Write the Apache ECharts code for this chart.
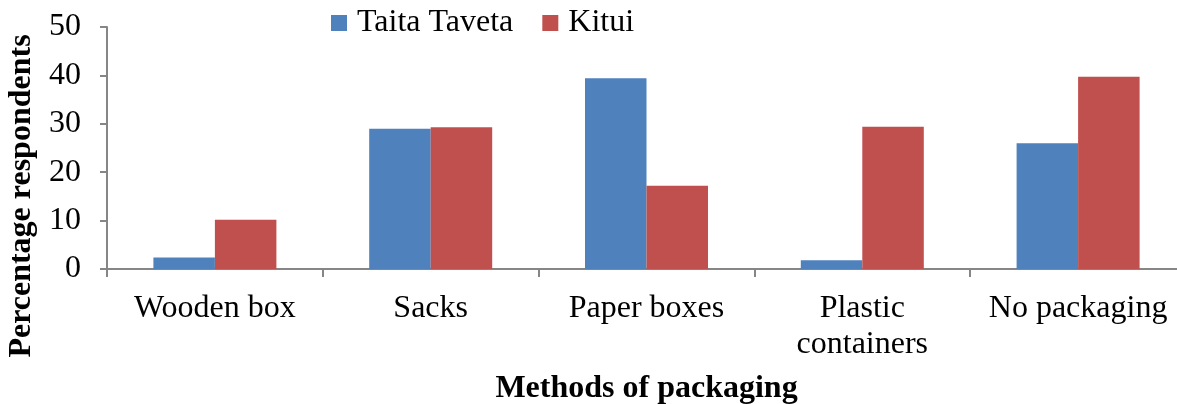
<!DOCTYPE html>
<html lang="en">
<head>
    <meta charset="UTF-8">
    <title>Methods of packaging</title>
    <script src="https://cdn.jsdelivr.net/npm/echarts@6/dist/echarts.min.js"></script>
    <style>
        html, body { margin: 0; padding: 0; background: #fff; }
    </style>
</head>
<body>
<div id="main" style="width: 1177px;height:404px;"></div>
<script type="text/javascript">
    // data
    var categories = ['Wooden box', 'Sacks', 'Paper boxes', 'Plastic\ncontainers', 'No packaging'];
    var taitaTaveta = [2.4, 29.0, 39.4, 1.8, 26.0];
    var kitui = [10.2, 29.3, 17.2, 29.4, 39.7];
    var seriesNames = ['Taita Taveta', 'Kitui'];

    var font = "'Liberation Serif', 'Times New Roman', serif";
    var axisGrey = '#868686';

    var myChart = echarts.init(document.getElementById('main'));

    var option = {
        animation: false,
        textStyle: { fontFamily: font },
        legend: {
            data: seriesNames,
            icon: 'rect',
            left: 331,
            top: 7,
            padding: 0,
            itemWidth: 16,
            itemHeight: 16,
            itemGap: 29,
            textStyle: { fontFamily: font, fontSize: 32, color: '#000', padding: [0, 0, 0, 5] }
        },
        grid: {
            left: 107,
            right: -9,
            top: 27,
            bottom: 135,
            outerBoundsMode: 'none'   // keep the plot where it is, labels may hang outside
        },
        xAxis: {
            type: 'category',
            data: categories,
            axisLine: { lineStyle: { color: axisGrey, width: 2 } },
            axisTick: { show: true, length: 8, lineStyle: { color: axisGrey, width: 2 } },
            axisLabel: {
                fontFamily: font,
                fontSize: 32,
                color: '#000',
                margin: 22,
                lineHeight: 36,
                interval: 0
            },
            name: 'Methods of packaging',
            nameLocation: 'middle',
            nameGap: 104,
            nameTextStyle: { fontFamily: font, fontSize: 32, fontWeight: 'bold', color: '#000' }
        },
        yAxis: {
            type: 'value',
            min: 0,
            max: 50,
            interval: 10,
            axisLine: { show: true, lineStyle: { color: axisGrey, width: 2 } },
            axisTick: { show: true, length: 7, lineStyle: { color: axisGrey, width: 2 } },
            splitLine: { show: false },
            axisLabel: { fontFamily: font, fontSize: 32, color: '#000', margin: 26 }
        },
        graphic: [{
            type: 'text',
            x: 22,
            y: 196,
            rotation: Math.PI / 2,
            style: {
                text: 'Percentage respondents',
                fontFamily: font,
                fontSize: 32,
                fontWeight: 'bold',
                fill: '#000',
                align: 'center',
                verticalAlign: 'middle'
            }
        }],
        series: [
            {
                name: seriesNames[0],
                type: 'bar',
                data: taitaTaveta,
                barGap: '0%',
                barCategoryGap: '43%',
                itemStyle: { color: '#4F81BD' }
            },
            {
                name: seriesNames[1],
                type: 'bar',
                data: kitui,
                itemStyle: { color: '#C0504D' }
            }
        ]
    };

    myChart.setOption(option);
</script>
</body>
</html>
